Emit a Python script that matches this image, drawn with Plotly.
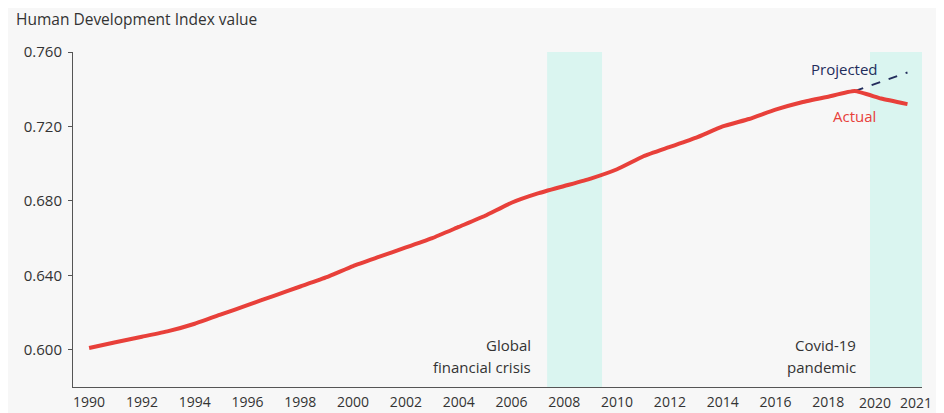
import plotly.graph_objects as go

years = list(range(1990, 2022))
hdi_actual = [0.601, 0.604, 0.607, 0.610, 0.614, 0.619, 0.624, 0.629, 0.634, 0.639,
              0.645, 0.650, 0.655, 0.660, 0.666, 0.672, 0.679, 0.684, 0.688, 0.692,
              0.697, 0.704, 0.709, 0.714, 0.720, 0.724, 0.729, 0.733, 0.736, 0.739,
              0.735, 0.732]
proj_years = [2019, 2020, 2021]
hdi_projected = [0.739, 0.744, 0.749]

tick_years = [1990, 1992, 1994, 1996, 1998, 2000, 2002, 2004, 2006, 2008, 2010,
              2012, 2014, 2016, 2018]
tick_labels = [str(y) for y in tick_years]
end_years = [2020, 2021]          # drawn as separate labels (crowded at the end)
end_labels = ["2020", "2021"]
y_ticks = [0.600, 0.640, 0.680, 0.720, 0.760]
y_labels = ["0.600", "0.640", "0.680", "0.720", "0.760"]

crisis_spans = [(2007.35, 2009.43), (2019.58, 2021.6)]

FONT = "Open Sans"
TXT = "#333333"
RED = "#e8403a"
NAVY = "#232d5c"
SHADE = "#daf5f0"

fig = go.Figure()
fig.add_trace(go.Scatter(x=proj_years, y=hdi_projected, mode="lines",
                         line=dict(color=NAVY, width=2, dash="dash"),
                         hoverinfo="skip", showlegend=False))
fig.add_trace(go.Scatter(x=years, y=hdi_actual, mode="lines",
                         line=dict(color=RED, width=4, shape="spline", smoothing=0.4),
                         hoverinfo="skip", showlegend=False))

for x0, x1 in crisis_spans:
    fig.add_shape(type="rect", xref="x", yref="paper", x0=x0, x1=x1, y0=0, y1=1,
                  fillcolor=SHADE, line=dict(width=0), layer="below")

ann = [
    ("Global", 2006.82, 0.6026, TXT),
    ("financial crisis", 2006.82, 0.5907, TXT),
    ("Covid-19", 2019.13, 0.6026, TXT),
    ("pandemic", 2019.13, 0.5907, TXT),
    ("Projected", 2019.96, 0.7509, NAVY),
    ("Actual", 2019.89, 0.7256, RED),
]
for text, x, y, c in ann:
    fig.add_annotation(text=text, x=x, y=y, xref="x", yref="y", xanchor="right",
                       yanchor="middle", showarrow=False,
                       font=dict(family=FONT, size=15, color=c))

for yr, lab, dx in zip(end_years, end_labels, [-6, 9]):
    fig.add_annotation(text=lab, x=yr, y=0, xref="x", yref="paper", xanchor="center",
                       yanchor="top", yshift=-4, xshift=dx, showarrow=False,
                       font=dict(family=FONT, size=14, color=TXT))

fig.add_annotation(text="Human Development Index value", xref="paper", yref="paper",
                   x=(14 - 73) / 849, y=1 + (52 - 19) / 335, xanchor="left",
                   yanchor="middle", showarrow=False,
                   font=dict(family=FONT, size=15.5, color=TXT))

# page body has an 8px default margin; size the figure so it fits the 944x413 window
fig.update_layout(
    width=936, height=405,
    margin=dict(l=65, r=22, t=44, b=26, autoexpand=False),
    paper_bgcolor="#f7f7f7", plot_bgcolor="#f7f7f7",
    font=dict(family=FONT, size=14, color=TXT),
    showlegend=False,
    xaxis=dict(range=[1989.39, 2021.55], tickmode="array", tickvals=tick_years,
               ticktext=tick_labels, tickangle=0, showgrid=False, zeroline=False,
               showline=True, linecolor="#555555", linewidth=1, ticks="",
               ticklabelstandoff=2, automargin=False,
               tickfont=dict(family=FONT, size=14, color=TXT)),
    yaxis=dict(range=[0.58, 0.76], tickmode="array", tickvals=y_ticks,
               ticktext=y_labels, showgrid=False, zeroline=False,
               showline=True, linecolor="#555555", linewidth=1, ticks="outside",
               ticklen=4, tickcolor="#555555", ticklabelstandoff=3, automargin=False,
               tickfont=dict(family=FONT, size=15, color=TXT)),
)

fig.write_html("out.html")
